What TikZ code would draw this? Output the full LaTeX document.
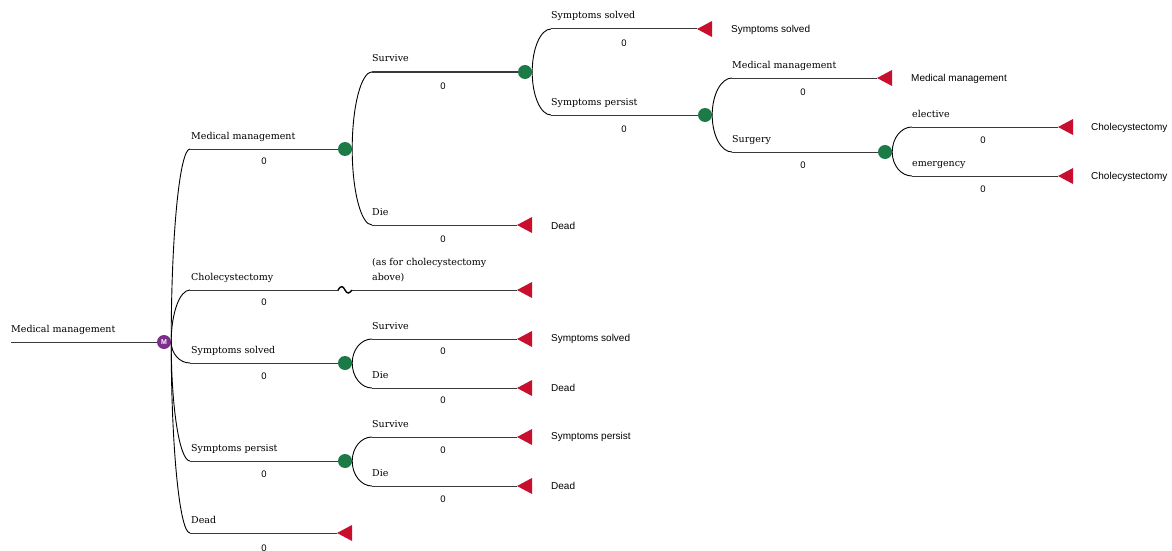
\documentclass[tikz,border=0pt]{standalone}
\usepackage{fontspec}
\setmainfont{DejaVu Serif}
\newfontfamily\labsans{Liberation Sans}
\usetikzlibrary{calc}
\definecolor{chancegreen}{HTML}{1B7A46}
\definecolor{termred}{HTML}{C8102E}
\definecolor{markovpurple}{HTML}{7E2F8E}
\definecolor{linegray}{HTML}{3A3A3A}
\tikzset{
  hline/.style={draw=linegray, line width=1pt},
  curve/.style={draw=black, line width=0.9pt},
  chance/.style={circle, fill=chancegreen, minimum size=14pt, inner sep=0pt},
  markov/.style={circle, fill=markovpurple, minimum size=14pt, inner sep=0pt, text=white, font=\labsans\bfseries\fontsize{7}{7}\selectfont},
  blab/.style={anchor=base west, inner sep=0pt, font=\fontsize{9.5}{12}\selectfont},
  zlab/.style={anchor=center, inner sep=0pt, font=\labsans\fontsize{9.5}{10}\selectfont},
  tlab/.style={anchor=west, inner sep=0pt, font=\labsans\fontsize{10}{11}\selectfont},
}
\newcommand\termnode[3]{\node[coordinate] (#1) at (#2,#3) {};\fill[termred] (#1) -- ++(15,-8) -- ++(0,16) -- cycle;}
\newcommand\branch[2]{\coordinate (kk) at (#1.east|-#2);
  \draw[curve] (#1.east) .. controls ($(#1.east)!0.552!(kk)$) and ($(#2)!0.552!(kk)$) .. (#2);}
\begin{document}
\begin{tikzpicture}[x=1pt,y=-1pt]
\useasboundingbox (0,0) rectangle (1172,551);
% root
\coordinate (root) at (11,342);
\node[markov] (m) at (164,342) {M};
\draw[hline] (root) -- (m);
\node[blab] at (11,332) {Medical management};
% level 1 starts
\coordinate (bmm) at (190,149);
\coordinate (bch) at (190,290);
\coordinate (bss) at (190,363);
\coordinate (bsp) at (190,461);
\coordinate (bd) at (190,533);
\foreach \b in {bmm,bch,bss,bsp,bd}{\branch{m}{\b}}
% chance/terminal for level 1
\node[chance] (c1) at (345,149) {};
\termnode{tch}{517}{290}
\node[chance] (c5) at (345,363) {};
\node[chance] (c6) at (345,461) {};
\termnode{td}{337}{533}
\draw[hline] (bmm) -- (c1);
\draw[hline] (bch) -- (tch);
\draw[hline] (bss) -- (c5);
\draw[hline] (bsp) -- (c6);
\draw[hline] (bd) -- (td);
% break symbol
\fill[white] (339,286) rectangle (351,294);
\draw[line width=1.4pt,black] (338,290) .. controls (341,285) and (343,286) .. (345,290) .. controls (347,294) and (349,294) .. (352,290);
\node[blab] at (191,139) {Medical management};
\node[zlab] at (264,161) {0};
\node[blab] at (191,280) {Cholecystectomy};
\node[zlab] at (264,302) {0};
\node[blab] at (191,353) {Symptoms solved};
\node[zlab] at (264,376) {0};
\node[blab] at (191,451) {Symptoms persist};
\node[zlab] at (264,474) {0};
\node[blab] at (191,523) {Dead};
\node[zlab] at (264,548) {0};
\node[anchor=base west, inner sep=0pt, align=left, font=\fontsize{9.5}{14.5}\selectfont] at (372,280) {(as for cholecystectomy\\above)};
% c1 children
\coordinate (bsv) at (372,72);
\coordinate (bdie) at (372,225);
\node[chance] (c2) at (525,72) {};
\termnode{tdie}{517}{225}
\foreach \b in {bsv,bdie}{\branch{c1}{\b}}
\draw[hline] (bsv) -- (c2);
\draw[hline] (bdie) -- (tdie);
\node[blab] at (372,62) {Survive};
\node[zlab] at (443,86) {0};
\node[blab] at (372,215) {Die};
\node[zlab] at (443,239) {0};
\node[tlab] at (551,226) {Dead};
% c2 children
\coordinate (bss2) at (551,29);
\coordinate (bsp2) at (551,115);
\termnode{tss2}{697}{29}
\node[chance] (c3) at (705,115) {};
\foreach \b in {bss2,bsp2}{\branch{c2}{\b}}
\draw[hline] (bss2) -- (tss2);
\draw[hline] (bsp2) -- (c3);
\node[blab] at (551,19) {Symptoms solved};
\node[zlab] at (624,43) {0};
\node[blab] at (551,105) {Symptoms persist};
\node[zlab] at (624,129) {0};
\node[tlab] at (731,30) {Symptoms solved};
% c3 children
\coordinate (bmm3) at (732,78);
\coordinate (bsu3) at (732,152);
\termnode{tmm3}{877}{78}
\node[chance] (c4) at (885,152) {};
\foreach \b in {bmm3,bsu3}{\branch{c3}{\b}}
\draw[hline] (bmm3) -- (tmm3);
\draw[hline] (bsu3) -- (c4);
\node[blab] at (732,68) {Medical management};
\node[zlab] at (803,92) {0};
\node[blab] at (732,142) {Surgery};
\node[zlab] at (803,165) {0};
\node[tlab] at (911,79) {Medical management};
% c4 children
\coordinate (bel) at (912,127);
\coordinate (bem) at (912,176);
\termnode{tel}{1058}{127}
\termnode{tem}{1058}{176}
\foreach \b in {bel,bem}{\branch{c4}{\b}}
\draw[hline] (bel) -- (tel);
\draw[hline] (bem) -- (tem);
\node[blab] at (912,117) {elective};
\node[zlab] at (983,140) {0};
\node[blab] at (912,166) {emergency};
\node[zlab] at (983,189) {0};
\node[tlab] at (1091,128) {Cholecystectomy};
\node[tlab] at (1091,177) {Cholecystectomy};
% c5 children
\coordinate (bsv5) at (372,339);
\coordinate (bdi5) at (372,388);
\termnode{tsv5}{517}{339}
\termnode{tdi5}{517}{388}
\foreach \b in {bsv5,bdi5}{\branch{c5}{\b}}
\draw[hline] (bsv5) -- (tsv5);
\draw[hline] (bdi5) -- (tdi5);
\node[blab] at (372,329) {Survive};
\node[zlab] at (443,351) {0};
\node[blab] at (372,378) {Die};
\node[zlab] at (443,400) {0};
\node[tlab] at (551,339) {Symptoms solved};
\node[tlab] at (551,388) {Dead};
% c6 children
\coordinate (bsv6) at (372,437);
\coordinate (bdi6) at (372,486);
\termnode{tsv6}{517}{437}
\termnode{tdi6}{517}{486}
\foreach \b in {bsv6,bdi6}{\branch{c6}{\b}}
\draw[hline] (bsv6) -- (tsv6);
\draw[hline] (bdi6) -- (tdi6);
\node[blab] at (372,427) {Survive};
\node[zlab] at (443,450) {0};
\node[blab] at (372,476) {Die};
\node[zlab] at (443,499) {0};
\node[tlab] at (551,437) {Symptoms persist};
\node[tlab] at (551,486) {Dead};
\end{tikzpicture}
\end{document}
